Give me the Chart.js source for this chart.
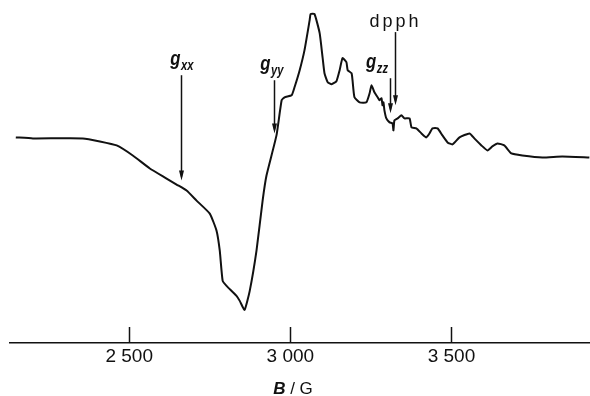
<!DOCTYPE html>
<html>
<head>
<meta charset="utf-8">
<script src="https://cdn.jsdelivr.net/npm/chart.js@4"></script>
<style>
  html, body { margin: 0; padding: 0; background: #fff; }
  #wrap { width: 590px; height: 396px; }
</style>
</head>
<body>
<div id="wrap"><canvas id="epr"></canvas></div>
<script>
const INK = "#111";
const SANS = "'Liberation Sans', Arial, sans-serif";

// magnetic field (G) and first-derivative signal (arb. units)
const FIELD = [2148, 2201, 2356, 2409, 2461, 2511, 2564, 2616, 2647, 2678,
  2709, 2750, 2771, 2781, 2790, 2802, 2833, 2843, 2858, 2874,
  2895, 2914, 2926, 2957, 2973, 2982, 3004, 3013, 3029, 3044,
  3060, 3063, 3075, 3091, 3100, 3106, 3116, 3128, 3143, 3153,
  3162, 3174, 3178, 3190, 3193, 3199, 3215, 3236, 3246, 3252,
  3261, 3271, 3277, 3283, 3286, 3289, 3292, 3298, 3308, 3317,
  3320, 3323, 3333, 3345, 3354, 3370, 3376, 3391, 3407, 3422,
  3432, 3441, 3457, 3472, 3488, 3503, 3525, 3556, 3571, 3593,
  3612, 3627, 3643, 3664, 3686, 3720, 3782, 3844, 3928];
const SIGNAL = [20, 19, 19, 16, 12, 2, -11, -21, -27, -33,
  -43, -56, -73, -93, -123, -128, -138, -143, -152, -133,
  -93, -43, -18, 22, 57, 60, 62, 70, 87, 107,
  137, 143, 143, 124, 100, 84, 75, 73, 76, 87,
  99, 95, 87, 84, 77, 60, 55, 55, 64, 72,
  65, 60, 57, 59, 52, 55, 47, 39, 35, 34,
  27, 37, 39, 42, 39, 39, 30, 29, 24, 20,
  24, 29, 29, 22, 15, 13, 20, 24, 19, 12,
  7, 11, 14, 12, 4, 2, 0, 1, 0];

const TICKS = [2500, 3000, 3500];

// arrow markers: label, field, arrow tip, arrow tail
const MARK_NAMES = ["xx", "yy", "zz", "dpph"];
const MARK_FIELD = [2660, 2948, 3308, 3326];
const MARK_TIP = [-23, 24, 44, 52];
const MARK_TAIL = [82, 77, 79, 125];

const fmt = (v) => String(v).replace(/\B(?=(\d{3})+(?!\d))/g, " ");

// draw text squeezed horizontally (condensed look of the original)
function narrowText(ctx, text, x, y, font, squeeze) {
  ctx.save();
  ctx.font = font;
  ctx.translate(x, y);
  ctx.scale(squeeze, 1);
  ctx.fillText(text, 0, 0);
  ctx.restore();
}

const markers = {
  id: "markers",
  afterDatasetsDraw(chart) {
    const { ctx, scales: { x, y } } = chart;
    ctx.save();
    ctx.strokeStyle = INK;
    ctx.fillStyle = INK;
    ctx.lineWidth = 1.5;

    // inward tick marks on the field axis
    TICKS.forEach((t) => {
      const px = Math.round(x.getPixelForValue(t)) + 0.5;
      ctx.beginPath();
      ctx.moveTo(px, y.bottom);
      ctx.lineTo(px, y.bottom - 16);
      ctx.stroke();
    });

    MARK_NAMES.forEach((name, i) => {
      const px = Math.round(x.getPixelForValue(MARK_FIELD[i])) + 0.5;
      const tip = y.getPixelForValue(MARK_TIP[i]);
      const tail = y.getPixelForValue(MARK_TAIL[i]);
      ctx.lineWidth = 1.5;
      ctx.beginPath();
      ctx.moveTo(px, tail);
      ctx.lineTo(px, tip - 4);
      ctx.stroke();
      ctx.beginPath();
      ctx.moveTo(px, tip);
      ctx.lineTo(px - 2.5, tip - 10);
      ctx.lineTo(px + 2.5, tip - 10);
      ctx.closePath();
      ctx.fill();

      ctx.textBaseline = "alphabetic";
      ctx.textAlign = "left";
      if (name === "dpph") {
        ctx.font = "18px " + SANS;
        let cx = px - 26;
        ["d", "p", "p", "h"].forEach((ch) => {
          ctx.fillText(ch, cx, tail - 5);
          cx += ctx.measureText(ch).width + 3;
        });
      } else {
        const gFont = "italic bold 21px " + SANS;
        const sFont = "italic bold 14px " + SANS;
        ctx.font = gFont;
        const gw = ctx.measureText("g").width * 0.8;
        ctx.font = sFont;
        const sw = ctx.measureText(name).width * 0.8;
        let left = px - (gw + sw) / 2;
        if (name === "zz") left = px - gw - sw - 3;
        if (name === "yy") left = px - (gw + sw) / 2 - 3;
        const base = tail - 10;
        narrowText(ctx, "g", left, base, gFont, 0.8);
        narrowText(ctx, name, left + gw + 0.5, base + 5, sFont, 0.8);
      }
    });

    // axis title with italic quantity symbol
    const base = 394;
    const cx = 293;
    ctx.font = "italic bold 17px " + SANS;
    const bw = ctx.measureText("B").width;
    ctx.font = "17px " + SANS;
    const rw = ctx.measureText(" / G").width;
    const left = cx - (bw + rw) / 2;
    ctx.font = "italic bold 17px " + SANS;
    ctx.fillText("B", left, base);
    ctx.font = "17px " + SANS;
    ctx.fillText(" / G", left + bw, base);
    ctx.restore();
  },
};

new Chart(document.getElementById("epr"), {
  type: "line",
  data: {
    datasets: [
      {
        data: FIELD.map((b, i) => ({ x: b, y: SIGNAL[i] })),
        borderColor: INK,
        borderWidth: 2,
        pointRadius: 0,
        tension: 0.15,
        fill: false,
      },
    ],
  },
  options: {
    responsive: true,
    maintainAspectRatio: false,
    animation: false,
    layout: { padding: { left: 10, right: 0, top: 0, bottom: 26 } },
    plugins: { legend: { display: false }, tooltip: { enabled: false } },
    scales: {
      x: {
        type: "linear",
        min: 2130,
        max: 3930,
        afterBuildTicks: (scale) => {
          scale.ticks = TICKS.map((v) => ({ value: v }));
        },
        grid: { display: false, drawTicks: false },
        border: { display: true, color: INK, width: 1.5 },
        ticks: {
          color: INK,
          padding: 4,
          maxRotation: 0,
          font: { family: SANS, size: 19, lineHeight: 1 },
          callback: (v) => fmt(v),
        },
      },
      y: {
        display: false,
        min: -185,
        max: 157,
      },
    },
  },
  plugins: [markers],
});
</script>
</body>
</html>
